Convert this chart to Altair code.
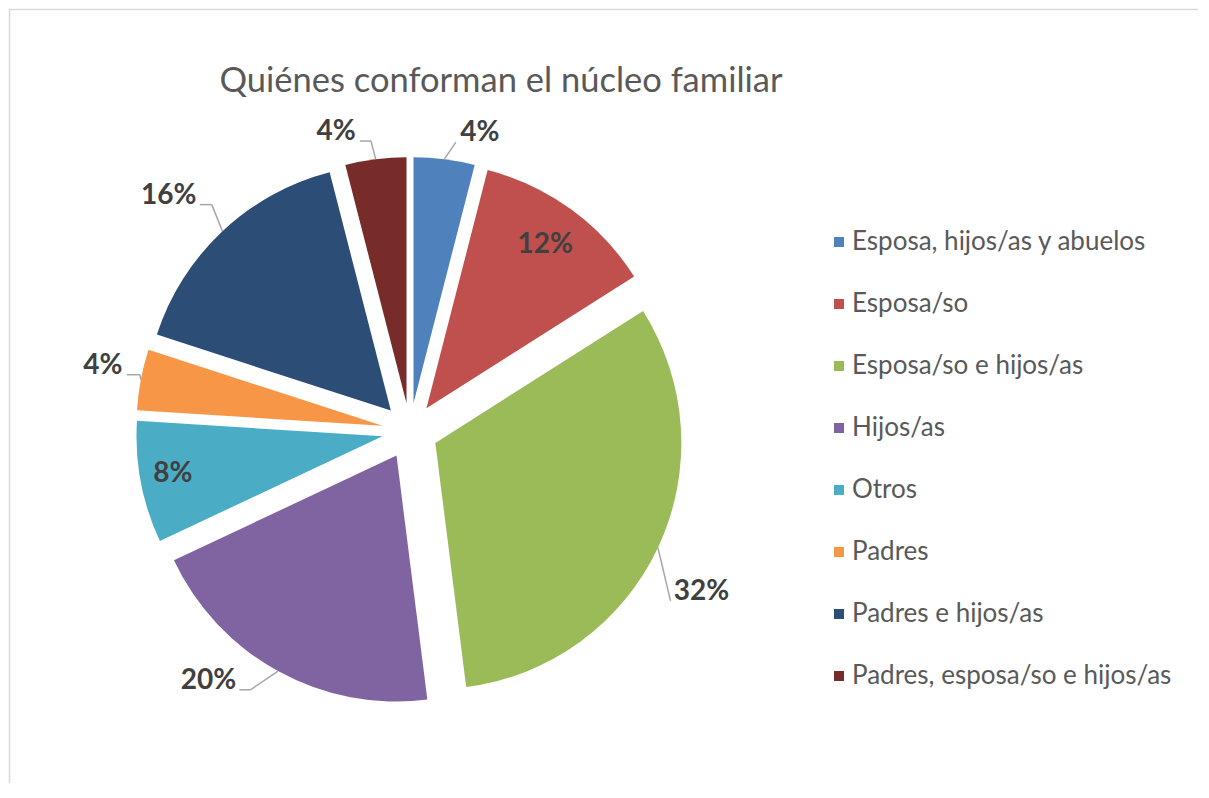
import altair as alt
import pandas as pd

# ---- data ----
categories = [
    "Esposa, hijos/as y abuelos",
    "Esposa/so",
    "Esposa/so e hijos/as",
    "Hijos/as",
    "Otros",
    "Padres",
    "Padres e hijos/as",
    "Padres, esposa/so e hijos/as",
]
values = [4, 12, 32, 20, 8, 4, 16, 4]
colors = ["#4F81BD", "#C0504D", "#9BBB59", "#8064A2",
          "#4BACC6", "#F79646", "#2C4D75", "#772C2A"]

# ---- label layout (polar, relative to pie centre) ----
label_angle = [13.2, 36.0, 118.9, 218.9, 259.7, 282.0, 314.3, 346.1]
label_dist = [306, 230, 333, 321, 241, 314, 337, 308]
has_leader = [1, 0, 1, 1, 0, 1, 1, 1]
leader_stub = [0, 0, 0, 11, 0, 13, 12, 11]

CX, CY = 402, 423      # pie centre (plot coords)
R, EXPLODE = 246, 28   # radius and explosion distance
W, H = 1190, 775       # chart size

df = pd.DataFrame({
    "cat": categories,
    "value": values,
    "lab_ang": label_angle,
    "lab_dist": label_dist,
    "lead": has_leader,
    "stub": leader_stub,
})

base = alt.Chart(df).transform_window(
    cum="sum(value)", frame=[None, 0]
).transform_calculate(
    a0="(datum.cum - datum.value) / 100 * 2 * PI",
    a1="datum.cum / 100 * 2 * PI",
).transform_calculate(
    mid="(datum.a0 + datum.a1) / 2",
).transform_calculate(
    px=f"{CX} + {EXPLODE} * sin(datum.mid)",
    py=f"{CY} - {EXPLODE} * cos(datum.mid)",
    lx=f"{CX} + datum.lab_dist * sin(datum.lab_ang * PI / 180)",
    ly=f"{CY} - datum.lab_dist * cos(datum.lab_ang * PI / 180)",
    label="datum.value + '%'",
    x0=f"{CX} + {R + EXPLODE} * sin(datum.mid)",
    y0=f"{CY} - {R + EXPLODE} * cos(datum.mid)",
)

pie = base.mark_arc(radius=R).encode(
    theta=alt.Theta("a0:Q", scale=None, stack=None),
    theta2=alt.Theta2("a1:Q"),
    x=alt.X("px:Q", scale=None),
    y=alt.Y("py:Q", scale=None),
    color=alt.Color(
        "cat:N",
        sort=categories,
        scale=alt.Scale(domain=categories, range=colors),
        legend=alt.Legend(
            title=None,
            orient="none",
            legendX=818,
            legendY=221,
            symbolType="square",
            symbolSize=100,
            symbolStrokeWidth=0,
            labelFont="Lato",
            labelFontSize=26,
            labelColor="#595959",
            labelOffset=0,
            rowPadding=36,
            labelLimit=0,
            padding=0,
        ),
    ),
)

labels = base.mark_text(
    font="Lato", fontSize=28, fontWeight="bold", color="#404040",
    align="center", baseline="middle",
).encode(
    x=alt.X("lx:Q", scale=None),
    y=alt.Y("ly:Q", scale=None),
    text="label:N",
)

lead = base.transform_filter("datum.lead == 1").transform_calculate(
    hw="(14 * length(datum.label) + 12) / 2",
    side=f"datum.lx > {CX} ? 1 : -1",
).transform_calculate(
    x2="datum.lx - datum.side * (datum.hw + 4)",
    y2="datum.ly + 9",
).transform_calculate(
    x1="datum.x2 - datum.side * datum.stub",
)

lead_a = lead.mark_rule(color="#A6A6A6", strokeWidth=1.5).encode(
    x=alt.X("x0:Q", scale=None), y=alt.Y("y0:Q", scale=None),
    x2="x1:Q", y2="y2:Q",
)
lead_b = lead.mark_rule(color="#A6A6A6", strokeWidth=1.5).encode(
    x=alt.X("x1:Q", scale=None), y=alt.Y("y2:Q", scale=None),
    x2="x2:Q", y2="y2:Q",
)

title = alt.Chart(pd.DataFrame({"t": ["Quiénes conforman el núcleo familiar"]})).mark_text(
    font="Lato", fontSize=34.5, color="#595959", align="center", baseline="middle",
).encode(
    x=alt.value(493), y=alt.value(74), text="t:N",
)

# chart frame (only left and top edges are visible in the original)
frame_pts = pd.DataFrame({"fx": [1.5, 1.5, W], "fy": [H, 1.5, 1.5], "o": [0, 1, 2]})
frame = alt.Chart(frame_pts).mark_line(
    color="#D9D9D9", strokeWidth=1.5, strokeJoin="bevel", strokeCap="butt"
).encode(
    x=alt.X("fx:Q", scale=None), y=alt.Y("fy:Q", scale=None), order="o:Q",
)

chart = alt.layer(frame, pie, lead_a, lead_b, labels, title).properties(
    width=W,
    height=H,
    padding=0,
    autosize=alt.AutoSizeParams(type="fit", contains="padding"),
).configure_view(stroke="transparent", strokeWidth=0)

chart.save("out.html", embed_options={"renderer": "svg", "actions": False})
